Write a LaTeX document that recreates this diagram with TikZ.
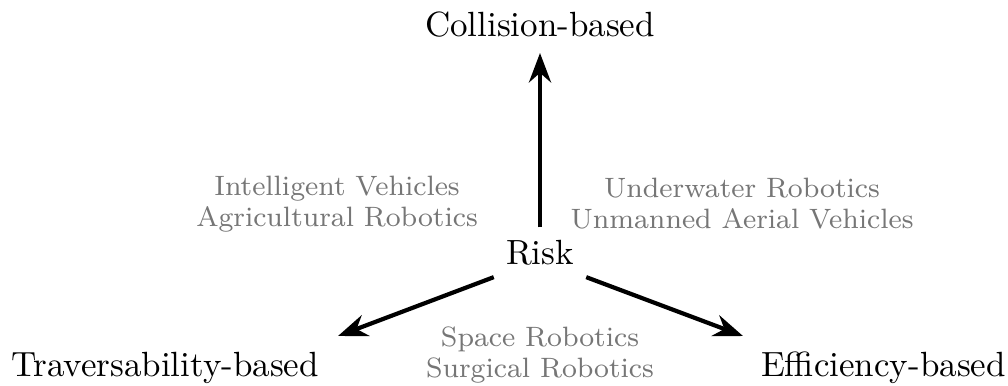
\documentclass[tikz,border=0pt]{standalone}
\usetikzlibrary{arrows.meta}
\definecolor{labelgray}{RGB}{118,118,118}
\tikzset{
  bigtext/.style={font=\fontsize{10}{12}\selectfont, anchor=base, text=black},
  apptext/.style={font=\fontsize{8}{8.8}\selectfont, align=center, anchor=base, text=labelgray},
  riskarrow/.style={line width=1.2pt, -{Stealth}}
}
\begin{document}
\begin{tikzpicture}[x=0.2857pt, y=-0.2857pt]
\useasboundingbox (0,0) rectangle (1008,385);
\node[bigtext] (coll) at (540,36) {Collision-based};
\node[bigtext] (risk) at (540,264) {Risk};
\node[bigtext] (trav) at (165,376.5) {Traversability-based};
\node[bigtext] (eff) at (883.5,376.5) {Efficiency-based};
\node[apptext] (iv) at (337,226.7) {Intelligent Vehicles\\Agricultural Robotics};
\node[apptext] (uw) at (742,228) {Underwater Robotics\\Unmanned Aerial Vehicles};
\node[apptext] (sp) at (540,377) {Space Robotics\\Surgical Robotics};
\coordinate (tipup) at (540,53);
\coordinate (tipleft) at (338,336);
\coordinate (tipright) at (743,336);
\draw[riskarrow] (risk.north) -- (tipup);
\draw[riskarrow] (risk.south west) -- (tipleft);
\draw[riskarrow] (risk.south east) -- (tipright);
\end{tikzpicture}
\end{document}
